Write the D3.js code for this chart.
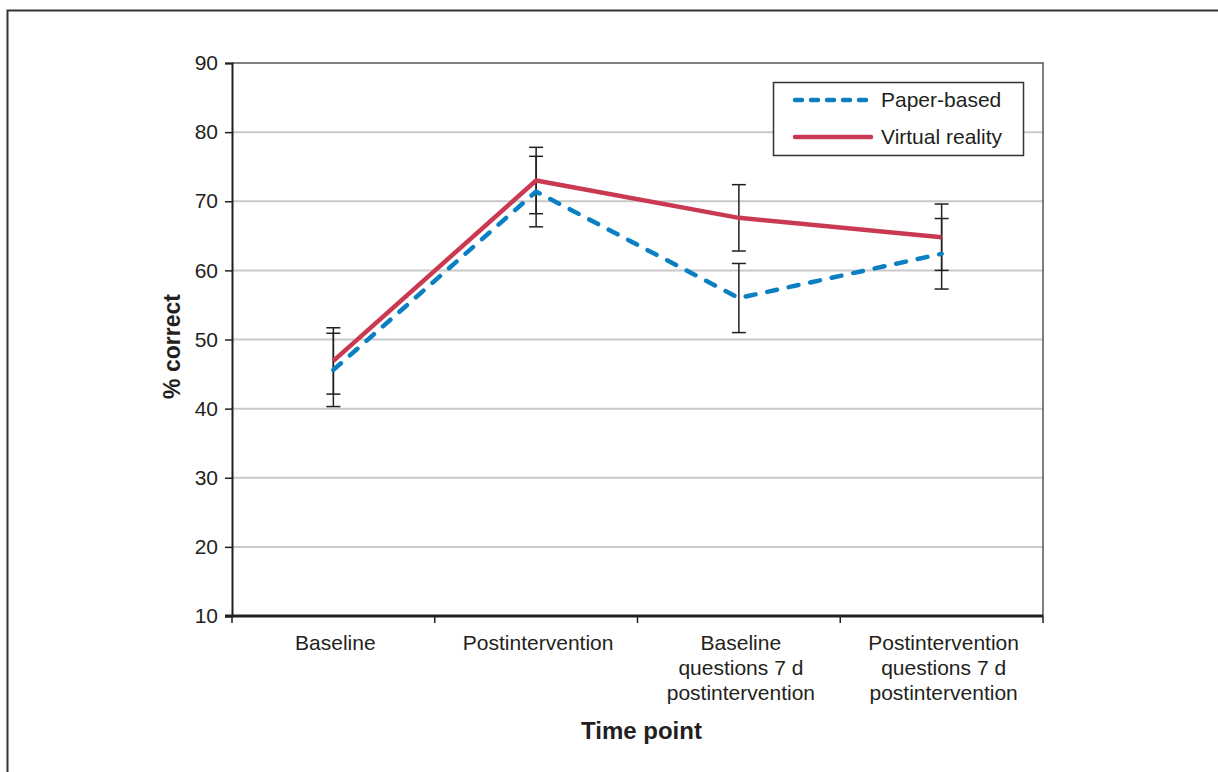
<!DOCTYPE html>
<html>
<head>
<meta charset="utf-8">
<script src="https://cdn.jsdelivr.net/npm/d3@7"></script>
<style>
  body { margin: 0; background: #fff; }
  text { font-family: "Liberation Sans", Arial, sans-serif; fill: #231f20; }
</style>
</head>
<body>
<div id="chart"></div>
<script>
var categories = [
  ['Baseline'],
  ['Postintervention'],
  ['Baseline', 'questions 7 d', 'postintervention'],
  ['Postintervention', 'questions 7 d', 'postintervention']
];
var seriesNames = ['Paper-based', 'Virtual reality'];
var paperValues = [45.6, 71.4, 56.0, 62.4];
var paperErrors = [5.3, 5.1, 5.0, 5.1];
var vrValues = [46.9, 73.0, 67.6, 64.8];
var vrErrors = [4.8, 4.8, 4.8, 4.8];
var yTicks = [10, 20, 30, 40, 50, 60, 70, 80, 90];

(function () {
  var svg = d3.select('#chart')
    .append('svg')
    .attr('width', 1218)
    .attr('height', 772);

  // outer frame
  svg.append('rect')
    .attr('x', 7.5).attr('y', 10.5)
    .attr('width', 1230).attr('height', 800)
    .attr('fill', 'none')
    .attr('stroke', '#333')
    .attr('stroke-width', 2);

  var plotLeft = 232, plotRight = 1043, plotTop = 63, plotBottom = 616;

  var x = d3.scaleBand()
    .domain(d3.range(categories.length))
    .range([plotLeft, plotRight]);

  var y = d3.scaleLinear()
    .domain([10, 90])
    .range([plotBottom, plotTop]);

  // gridlines
  svg.append('g')
    .selectAll('line')
    .data(yTicks.filter(function (d) { return d > 10 && d < 90; }))
    .enter()
    .append('line')
    .attr('x1', plotLeft).attr('x2', plotRight)
    .attr('y1', function (d) { return y(d); })
    .attr('y2', function (d) { return y(d); })
    .attr('stroke', '#c9c9c9')
    .attr('stroke-width', 2);

  // plot border (top and right)
  svg.append('path')
    .attr('d', 'M' + plotLeft + ',' + y(90) + 'H' + plotRight + 'V' + plotBottom)
    .attr('fill', 'none')
    .attr('stroke', '#555')
    .attr('stroke-width', 1.5);

  // y axis
  var yAxis = svg.append('g')
    .attr('transform', 'translate(' + plotLeft + ',0)')
    .call(d3.axisLeft(y).tickValues(yTicks).tickSize(7).tickPadding(7));
  yAxis.select('.domain').attr('stroke', '#231f20').attr('stroke-width', 2);
  yAxis.selectAll('.tick line').attr('stroke', '#231f20').attr('stroke-width', 1.5);
  yAxis.selectAll('.tick text')
    .attr('font-size', 21)
    .style('font-family', '"Liberation Sans", Arial, sans-serif')
    .attr('fill', '#231f20');

  // x axis
  var xAxis = svg.append('g')
    .attr('transform', 'translate(0,' + plotBottom + ')');
  xAxis.append('line')
    .attr('x1', plotLeft - 7).attr('x2', plotRight)
    .attr('y1', 0).attr('y2', 0)
    .attr('stroke', '#231f20').attr('stroke-width', 3);
  xAxis.selectAll('.xtick')
    .data(d3.range(categories.length + 1))
    .enter()
    .append('line')
    .attr('x1', function (d) { return plotLeft + d * x.step(); })
    .attr('x2', function (d) { return plotLeft + d * x.step(); })
    .attr('y1', 0).attr('y2', 7)
    .attr('stroke', '#231f20').attr('stroke-width', 1.5);

  var labels = xAxis.selectAll('.xlabel')
    .data(categories)
    .enter()
    .append('text')
    .attr('text-anchor', 'middle')
    .attr('font-size', 21)
    .attr('transform', function (d, i) {
      return 'translate(' + (x(i) + x.bandwidth() / 2 + 2) + ',34)';
    });
  labels.selectAll('tspan')
    .data(function (d) { return d; })
    .enter()
    .append('tspan')
    .attr('x', 0)
    .attr('y', function (d, i) { return i * 25; })
    .text(function (d) { return d; });

  // axis titles
  svg.append('text')
    .attr('x', (plotLeft + plotRight) / 2 + 4)
    .attr('y', 739)
    .attr('text-anchor', 'middle')
    .attr('font-size', 24)
    .attr('font-weight', 'bold')
    .text('Time point');

  svg.append('text')
    .attr('transform', 'translate(180,' + ((plotTop + plotBottom) / 2 + 7) + ') rotate(-90)')
    .attr('text-anchor', 'middle')
    .attr('font-size', 23)
    .attr('font-weight', 'bold')
    .text('% correct');

  function cx(i) { return x(i) + x.bandwidth() / 2; }

  // error bars
  function drawErrors(values, errors) {
    var g = svg.append('g');
    values.forEach(function (v, i) {
      var hi = y(v + errors[i]), lo = y(v - errors[i]);
      g.append('line')
        .attr('x1', cx(i)).attr('x2', cx(i))
        .attr('y1', hi).attr('y2', lo)
        .attr('stroke', '#231f20').attr('stroke-width', 1.5);
      [hi, lo].forEach(function (yy) {
        g.append('line')
          .attr('x1', cx(i) - 7).attr('x2', cx(i) + 7)
          .attr('y1', yy).attr('y2', yy)
          .attr('stroke', '#231f20').attr('stroke-width', 1.5);
      });
    });
  }
  drawErrors(paperValues, paperErrors);
  drawErrors(vrValues, vrErrors);

  // lines
  var line = d3.line()
    .x(function (d, i) { return cx(i); })
    .y(function (d) { return y(d); });

  svg.append('path')
    .datum(paperValues)
    .attr('d', line)
    .attr('fill', 'none')
    .attr('stroke', '#0a7fc2')
    .attr('stroke-width', 4.5)
    .attr('stroke-linecap', 'round')
    .attr('stroke-dasharray', '10,12');

  svg.append('path')
    .datum(vrValues)
    .attr('d', line)
    .attr('fill', 'none')
    .attr('stroke', '#c93a52')
    .attr('stroke-width', 4.5);

  // legend
  var legend = svg.append('g').attr('transform', 'translate(773,82)');
  legend.append('rect')
    .attr('x', 0.5).attr('y', 0.5)
    .attr('width', 250).attr('height', 73)
    .attr('fill', '#fff')
    .attr('stroke', '#333')
    .attr('stroke-width', 1.5);

  var styles = [
    { color: '#0a7fc2', dash: '7,9' },
    { color: '#c93a52', dash: null }
  ];
  seriesNames.forEach(function (name, i) {
    var yy = 18 + i * 37;
    legend.append('line')
      .attr('x1', 22).attr('x2', 98)
      .attr('y1', yy).attr('y2', yy)
      .attr('stroke', styles[i].color)
      .attr('stroke-width', 4.5)
      .attr('stroke-linecap', 'round')
      .attr('stroke-dasharray', styles[i].dash);
    legend.append('text')
      .attr('x', 108)
      .attr('y', yy + 7)
      .attr('font-size', 21)
      .text(name);
  });
})();
</script>
</body>
</html>
